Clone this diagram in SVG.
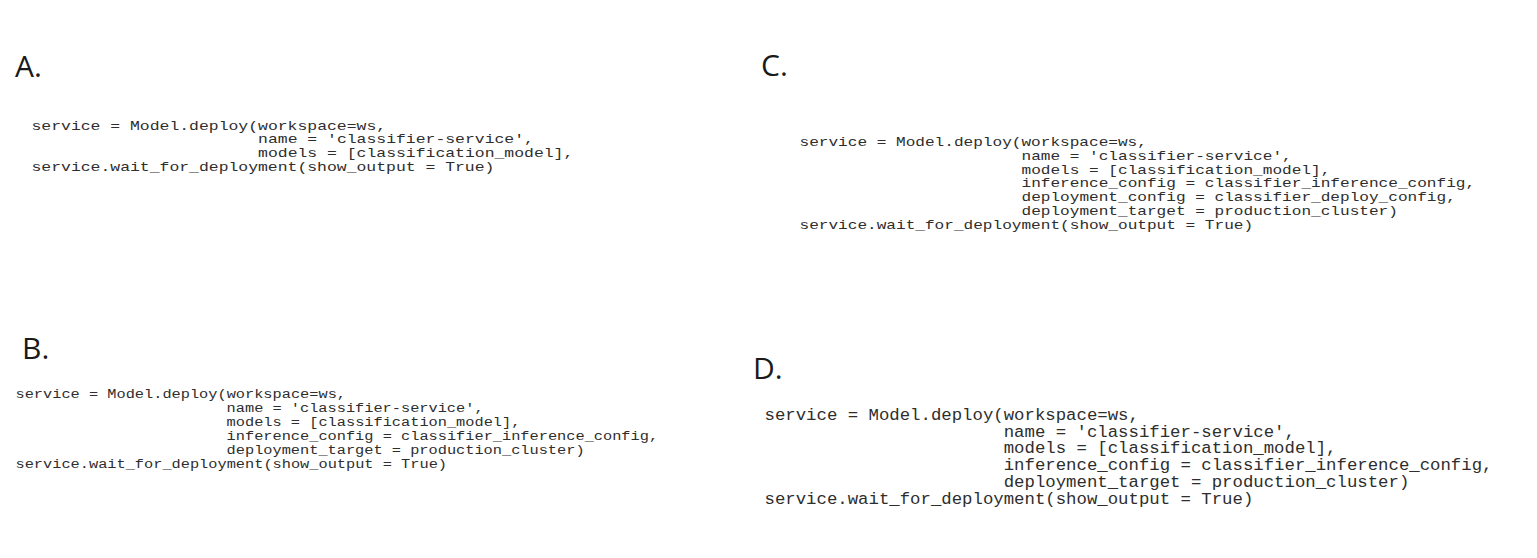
<svg xmlns="http://www.w3.org/2000/svg" width="1537" height="558" viewBox="0 0 1537 558">
<style>
.bg{fill:#ffffff}
.label{font-family:"Open Sans","Noto Sans",sans-serif;font-size:30px;fill:#1a1a1a}
.code{font-family:"Liberation Mono","Courier New",monospace;fill:#2e2e2e}
.a{font-size:13.5px}
.b{font-size:13.7px}
.c{font-size:13.5px}
.d{font-size:16.3px}
</style>
<rect class="bg" x="0" y="0" width="1537" height="558"/>

<g id="panel-A">
<text class="label" x="15" y="77">A.</text>
<g class="code a">
<text x="31.5" y="129.5" textLength="354.6" lengthAdjust="spacingAndGlyphs">service = Model.deploy(workspace=ws,</text>
<text x="258.1" y="143.3" textLength="275.8" lengthAdjust="spacingAndGlyphs">name = 'classifier-service',</text>
<text x="258.1" y="157.1" textLength="315.2" lengthAdjust="spacingAndGlyphs">models = [classification_model],</text>
<text x="31.5" y="170.9" textLength="462.9" lengthAdjust="spacingAndGlyphs">service.wait_for_deployment(show_output = True)</text>
</g>
</g>

<g id="panel-B">
<text class="label" x="22" y="358.5">B.</text>
<g class="code b">
<text x="15.5" y="398.3" textLength="330.5" lengthAdjust="spacingAndGlyphs">service = Model.deploy(workspace=ws,</text>
<text x="226.6" y="412.3" textLength="257" lengthAdjust="spacingAndGlyphs">name = 'classifier-service',</text>
<text x="226.6" y="426.3" textLength="293.8" lengthAdjust="spacingAndGlyphs">models = [classification_model],</text>
<text x="226.6" y="440.3" textLength="431.5" lengthAdjust="spacingAndGlyphs">inference_config = classifier_inference_config,</text>
<text x="226.6" y="454.3" textLength="358" lengthAdjust="spacingAndGlyphs">deployment_target = production_cluster)</text>
<text x="15.5" y="468.3" textLength="431.5" lengthAdjust="spacingAndGlyphs">service.wait_for_deployment(show_output = True)</text>
</g>
</g>

<g id="panel-C">
<text class="label" x="761" y="76">C.</text>
<g class="code c">
<text x="799.5" y="146" textLength="347.4" lengthAdjust="spacingAndGlyphs">service = Model.deploy(workspace=ws,</text>
<text x="1021.5" y="159.8" textLength="270.2" lengthAdjust="spacingAndGlyphs">name = 'classifier-service',</text>
<text x="1021.5" y="173.6" textLength="308.8" lengthAdjust="spacingAndGlyphs">models = [classification_model],</text>
<text x="1021.5" y="187.4" textLength="453.6" lengthAdjust="spacingAndGlyphs">inference_config = classifier_inference_config,</text>
<text x="1021.5" y="201.2" textLength="434.3" lengthAdjust="spacingAndGlyphs">deployment_config = classifier_deploy_config,</text>
<text x="1021.5" y="215" textLength="376.4" lengthAdjust="spacingAndGlyphs">deployment_target = production_cluster)</text>
<text x="799.5" y="228.8" textLength="453.6" lengthAdjust="spacingAndGlyphs">service.wait_for_deployment(show_output = True)</text>
</g>
</g>

<g id="panel-D">
<text class="label" x="753" y="378.5">D.</text>
<g class="code d">
<text x="764.5" y="420" textLength="374.4" lengthAdjust="spacingAndGlyphs">service = Model.deploy(workspace=ws,</text>
<text x="1003.7" y="436.7" textLength="291.2" lengthAdjust="spacingAndGlyphs">name = 'classifier-service',</text>
<text x="1003.7" y="453.4" textLength="332.8" lengthAdjust="spacingAndGlyphs">models = [classification_model],</text>
<text x="1003.7" y="470.1" textLength="488.8" lengthAdjust="spacingAndGlyphs">inference_config = classifier_inference_config,</text>
<text x="1003.7" y="486.8" textLength="405.6" lengthAdjust="spacingAndGlyphs">deployment_target = production_cluster)</text>
<text x="764.5" y="503.5" textLength="488.8" lengthAdjust="spacingAndGlyphs">service.wait_for_deployment(show_output = True)</text>
</g>
</g>
</svg>
